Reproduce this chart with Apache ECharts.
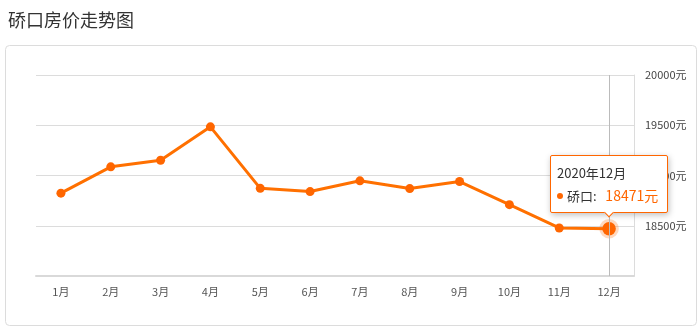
<!DOCTYPE html>
<html>
<head>
<meta charset="utf-8">
<script src="https://cdn.jsdelivr.net/npm/echarts@6/dist/echarts.min.js"></script>
<style>
html,body{margin:0;padding:0;background:#fff;}
#c{width:698px;height:329px;}
</style>
</head>
<body>
<div id="c"></div>
<script>
var titleText = '硚口房价走势图';
var seriesName = '硚口';
var categories = ['1月','2月','3月','4月','5月','6月','7月','8月','9月','10月','11月','12月'];
var periods = ['2020年1月','2020年2月','2020年3月','2020年4月','2020年5月','2020年6月','2020年7月','2020年8月','2020年9月','2020年10月','2020年11月','2020年12月'];
var prices = [18824, 19086, 19152, 19484, 18872, 18840, 18947, 18870, 18940, 18710, 18478, 18471];
var yMin = 18000, yMax = 20000, yStep = 500;
var unit = '元';
var activeIndex = 11;

var FONT = '"Microsoft YaHei","Noto Sans CJK SC",sans-serif';
var ORANGE = '#ff6600';
var chart = echarts.init(document.getElementById('c'));
chart.setOption({
  animation: false,
  textStyle: {fontFamily: FONT},
  title: {
    text: titleText, left: 3, top: 6,
    textStyle: {fontSize: 18, fontWeight: 'normal', color: '#333', fontFamily: FONT}
  },
  graphic: [{
    type: 'rect', silent: true, z: -10,
    shape: {x: 5.5, y: 45.5, width: 691, height: 280, r: 4},
    style: {fill: '#fff', stroke: '#dcdcdc', lineWidth: 1}
  }],
  grid: {left: 36, right: 64, top: 75, bottom: 53},
  axisPointer: {triggerOn: 'none'},
  tooltip: {
    trigger: 'item',
    triggerOn: 'none',
    alwaysShowContent: true,
    transitionDuration: 0,
    position: 'top',
    backgroundColor: '#fff',
    borderColor: ORANGE,
    borderWidth: 1,
    borderRadius: 2,
    padding: [5, 9, 5, 6],
    extraCssText: 'box-shadow:1px 2px 6px rgba(0,0,0,0.25);margin-top:-1px;border-color:#ff6600 !important;',
    formatter: function (p) {
      return '<div style="font-family:' + FONT.replace(/"/g, "'") + ';font-size:13px;line-height:23px;color:#333;">' +
        periods[p.dataIndex] + '<br/>' +
        '<span style="display:inline-block;width:6px;height:6px;border-radius:3px;background:' + ORANGE + ';margin-right:4px;vertical-align:2px;"></span>' +
        p.seriesName + ':&nbsp;&nbsp;&nbsp;<span style="color:' + ORANGE + ';font-size:14px;">' + p.value + unit + '</span></div>';
    }
  },
  xAxis: {
    type: 'category',
    data: categories,
    boundaryGap: true,
    axisLine: {lineStyle: {color: '#d9d9d9', width: 2}},
    axisTick: {alignWithLabel: true, length: 5, lineStyle: {color: '#d9d9d9'}},
    axisLabel: {color: '#555', fontSize: 11, margin: 10},
    axisPointer: {
      show: true, type: 'line', value: activeIndex, status: 'show',
      lineStyle: {color: '#bbb', width: 1, type: 'solid'},
      label: {show: false}
    }
  },
  yAxis: {
    type: 'value',
    position: 'right',
    min: yMin, max: yMax, interval: yStep,
    axisLine: {show: true, lineStyle: {color: '#dcdcdc', width: 1}},
    axisTick: {show: false},
    axisLabel: {color: '#444', fontSize: 11, margin: 11, showMinLabel: false,
      formatter: function (v) { return v + unit; }},
    splitLine: {lineStyle: {color: '#dcdcdc', width: 1}}
  },
  series: [{
    name: seriesName,
    type: 'line',
    data: prices,
    symbol: 'circle',
    symbolSize: 9,
    lineStyle: {color: ORANGE, width: 3},
    itemStyle: {color: ORANGE},
    emphasis: {
      scale: 1.5,
      itemStyle: {color: ORANGE, borderColor: 'rgba(255,102,0,0.25)', borderWidth: 6}
    }
  }]
});
chart.dispatchAction({type: 'highlight', seriesIndex: 0, dataIndex: activeIndex});
chart.dispatchAction({type: 'showTip', seriesIndex: 0, dataIndex: activeIndex});
</script>
</body>
</html>
